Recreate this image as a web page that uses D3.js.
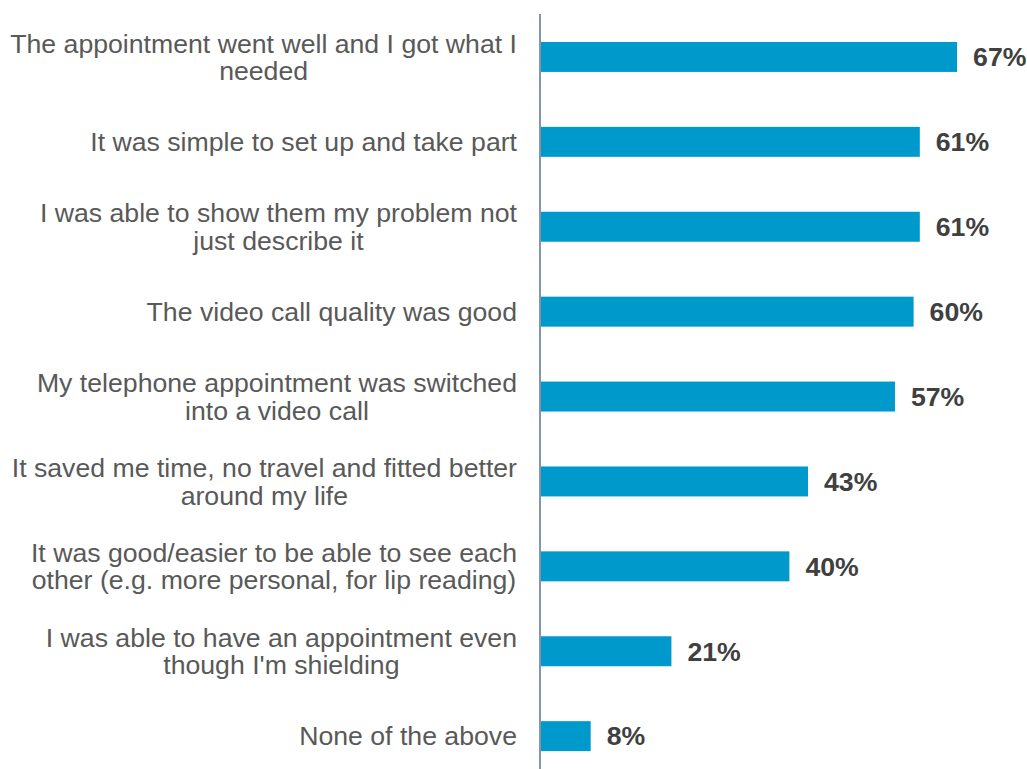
<!DOCTYPE html>
<html>
<head>
<meta charset="utf-8">
<script src="https://cdn.jsdelivr.net/npm/d3@7"></script>
<style>
  html, body { margin: 0; padding: 0; background: #ffffff; }
  svg { display: block; }
</style>
</head>
<body>
<svg id="chart" width="1027" height="769"></svg>
<script>
// Reasons given for a positive video appointment (% of respondents)
const categories = [
  ["The appointment went well and I got what I", "needed"],
  ["It was simple to set up and take part"],
  ["I was able to show them my problem not", "just describe it"],
  ["The video call quality was good"],
  ["My telephone appointment was switched", "into a video call"],
  ["It saved me time, no travel and fitted better", "around my life"],
  ["It was good/easier to be able to see each", "other (e.g. more personal, for lip reading)"],
  ["I was able to have an appointment even", "though I'm shielding"],
  ["None of the above"]
];
const values = [67, 61, 61, 60, 57, 43, 40, 21, 8];
const valueLabels = ["67%", "61%", "61%", "60%", "57%", "43%", "40%", "21%", "8%"];

const svg = d3.select("#chart");
const font = "'Liberation Sans', Arial, sans-serif";
const fontSize = 26.67;

const x = d3.scaleLinear().domain([0, 100]).range([541, 1162]);
const y = d3.scaleBand()
  .domain(d3.range(values.length))
  .range([14.5, 778.6])
  .paddingInner(0.647)
  .paddingOuter(0.3235);

// bars
svg.append("g").selectAll("rect")
  .data(values)
  .join("rect")
  .attr("x", x(0))
  .attr("y", (d, i) => y(i))
  .attr("width", d => x(d) - x(0))
  .attr("height", y.bandwidth())
  .attr("fill", "#0099CC");

// value labels
svg.append("g").selectAll("text")
  .data(values)
  .join("text")
  .attr("x", d => x(d) + 16)
  .attr("y", (d, i) => y(i) + y.bandwidth() / 2)
  .attr("dy", "0.35em")
  .attr("font-family", font)
  .attr("font-size", fontSize)
  .attr("font-weight", "bold")
  .attr("fill", "#404040")
  .text((d, i) => valueLabels[i]);

// category labels: each block right-aligned at the axis, lines centred within it
const lineH = 27.5;
const cat = svg.append("g").selectAll("text")
  .data(categories)
  .join("text")
  .attr("font-family", font)
  .attr("font-size", fontSize)
  .attr("fill", "#595959")
  .attr("text-anchor", "middle");

cat.each(function (lines, i) {
  const t = d3.select(this);
  const cy = y(i) + y.bandwidth() / 2;
  const top = cy - (lines.length - 1) * lineH / 2;
  lines.forEach((ln, k) => {
    t.append("tspan")
      .attr("y", top + k * lineH)
      .attr("dy", "0.35em")
      .text(ln);
  });
  const widths = t.selectAll("tspan").nodes().map(s => s.getComputedTextLength());
  const centerX = 517 - d3.max(widths) / 2;
  t.selectAll("tspan").attr("x", centerX);
});

// vertical axis line
svg.append("line")
  .attr("x1", 540).attr("x2", 540)
  .attr("y1", 14).attr("y2", 769)
  .attr("stroke", "#8496AE")
  .attr("stroke-width", 2);
</script>
</body>
</html>
